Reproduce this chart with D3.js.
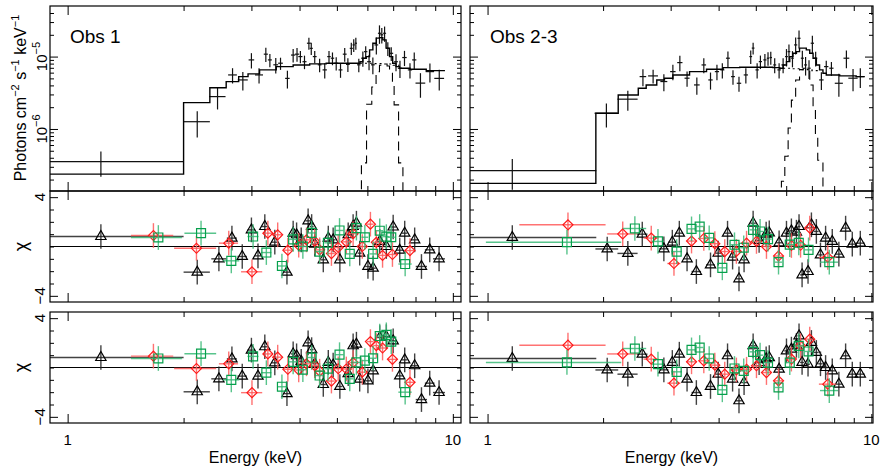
<!DOCTYPE html>
<html>
<head>
<meta charset="utf-8">
<script src="https://cdn.jsdelivr.net/npm/d3@7"></script>
<style>
  body { margin: 0; background: #fff; }
  text { font-family: "Liberation Sans", Arial, sans-serif; fill: #000; }
</style>
</head>
<body>
<svg id="chart" width="884" height="474"></svg>
<script>
// ---- Obs 1 : unfolded spectrum (flux in 1e-6 photons cm^-2 s^-1 keV^-1) ----
var spec1E   = [1.22, 2.17, 2.45, 2.68, 2.85, 3.0, 3.14, 3.27, 3.35, 3.47, 3.57, 3.72, 3.85, 3.94, 4.02, 4.12, 4.23, 4.29, 4.38, 4.51, 4.65, 4.77, 4.87, 4.98, 5.11, 5.24, 5.34, 5.45, 5.53, 5.60, 5.70, 5.84, 5.94, 6.06, 6.20, 6.33, 6.45, 6.54, 6.65, 6.78, 6.92, 7.12, 7.29, 7.49, 7.74, 7.94, 8.24, 8.72, 9.22];
var spec1dE  = [0.78, 0.17, 0.12, 0.07, 0.085, 0.05, 0.075, 0.04, 0.04, 0.05, 0.05, 0.05, 0.05, 0.05, 0.05, 0.05, 0.05, 0.04, 0.05, 0.05, 0.06, 0.05, 0.05, 0.06, 0.06, 0.06, 0.06, 0.05, 0.04, 0.04, 0.06, 0.06, 0.06, 0.07, 0.07, 0.07, 0.06, 0.06, 0.06, 0.07, 0.08, 0.08, 0.09, 0.1, 0.1, 0.1, 0.24, 0.22, 0.27];
var spec1F   = [0.353, 1.26, 2.8, 5.58, 4.76, 9.0, 5.58, 10.8, 9.0, 7.7, 8.1, 5.0, 10.5, 10.8, 10.0, 8.5, 15.3, 13.0, 10.0, 7.7, 6.55, 10.0, 9.5, 8.1, 6.55, 10.8, 7.8, 13.0, 14.5, 15.3, 7.7, 9.5, 11.7, 8.5, 7.7, 14.5, 21.0, 20.0, 21.0, 13.0, 11.1, 8.5, 6.9, 9.7, 6.55, 9.0, 4.3, 6.2, 5.0];
var spec1Err = [0.135, 0.5, 0.94, 1.33, 1.36, 2.15, 1.33, 2.4, 1.9, 1.84, 1.55, 1.38, 2.24, 2.3, 1.9, 1.8, 2.9, 2.5, 1.9, 1.64, 1.56, 1.9, 1.9, 1.7, 1.46, 2.3, 1.66, 2.5, 2.9, 2.9, 1.64, 2.27, 2.2, 2.0, 2.0, 3.8, 6.0, 4.8, 5.0, 2.8, 2.4, 2.25, 1.83, 2.3, 1.56, 2.4, 1.6, 1.8, 1.6];
// model (bin edges, one more than values), continuum and gaussian line
var model1E = [0.9, 2.0, 2.34, 2.58, 2.78, 2.94, 3.15, 3.48, 3.85, 4.25, 4.69, 5.2, 5.74, 5.84, 5.96, 6.08, 6.20, 6.33, 6.45, 6.58, 6.71, 6.85, 6.98, 7.12, 7.27, 7.74, 8.53, 9.54];
var model1F = [0.238, 2.31, 3.72, 4.51, 5.28, 5.77, 6.55, 7.27, 7.67, 7.92, 8.1, 8.1, 8.5, 9.5, 10.0, 12.4, 15.3, 18.0, 18.3, 17.0, 13.1, 10.0, 8.1, 7.27, 6.9, 6.69, 6.4];
var cont1E = [5.74, 6.2, 6.6, 7.0, 7.27];
var cont1F = [8.1, 8.0, 7.9, 7.6];
var line1E = [5.6, 5.79, 5.97, 6.16, 6.32, 6.45, 6.6, 6.75, 6.85, 6.97, 7.04, 7.23, 7.42, 7.6];
var line1F = [0.01, 0.34, 2.2, 3.8, 6.2, 7.6, 7.9, 7.4, 6.6, 4.0, 2.15, 0.34, 0.01];

// ---- Obs 2-3 : unfolded spectrum ----
var spec2E   = [1.16, 2.04, 2.32, 2.54, 2.70, 2.88, 3.04, 3.17, 3.31, 3.51, 3.66, 3.81, 3.96, 4.09, 4.23, 4.36, 4.52, 4.71, 4.85, 4.92, 5.04, 5.14, 5.28, 5.38, 5.47, 5.60, 5.75, 5.89, 6.01, 6.10, 6.23, 6.35, 6.48, 6.61, 6.74, 6.88, 7.02, 7.16, 7.41, 7.63, 7.87, 8.23, 8.61, 8.96, 9.36];
var spec2dE  = [0.76, 0.14, 0.14, 0.05, 0.08, 0.06, 0.05, 0.05, 0.05, 0.06, 0.05, 0.05, 0.05, 0.05, 0.05, 0.05, 0.06, 0.06, 0.04, 0.04, 0.05, 0.05, 0.05, 0.04, 0.04, 0.05, 0.06, 0.06, 0.05, 0.05, 0.05, 0.06, 0.06, 0.06, 0.06, 0.07, 0.07, 0.07, 0.1, 0.1, 0.1, 0.2, 0.15, 0.25, 0.25];
var spec2F   = [0.265, 1.65, 2.58, 5.29, 5.41, 4.52, 6.2, 8.26, 5.03, 4.06, 7.67, 4.76, 6.2, 6.55, 9.5, 5.29, 4.28, 5.58, 10.0, 13.1, 6.55, 8.53, 9.0, 9.5, 9.7, 7.67, 6.55, 7.67, 10.0, 11.7, 9.5, 14.5, 17.9, 9.5, 7.67, 6.91, 15.3, 9.5, 4.76, 7.27, 6.91, 4.28, 9.5, 5.03, 5.29];
var spec2Err = [0.12, 0.6, 0.8, 1.4, 1.15, 1.2, 1.5, 2.0, 1.2, 1.1, 1.8, 1.26, 1.5, 1.56, 2.3, 1.2, 1.0, 1.33, 2.1, 2.4, 1.56, 1.8, 1.9, 2.0, 2.0, 1.8, 1.56, 1.8, 2.7, 3.0, 2.4, 3.8, 5.0, 2.5, 2.2, 2.0, 4.1, 2.2, 1.3, 1.5, 1.5, 1.5, 2.6, 1.7, 1.6];
var model2E = [0.9, 1.915, 2.19, 2.47, 2.59, 2.76, 2.89, 3.04, 3.36, 3.72, 4.11, 4.54, 5.02, 5.54, 5.77, 5.89, 6.01, 6.13, 6.25, 6.38, 6.50, 6.64, 6.77, 6.91, 7.05, 7.19, 7.33, 7.48, 7.63, 8.27, 9.13, 9.6];
var model2F = [0.177, 1.65, 2.95, 3.66, 4.06, 4.76, 5.03, 5.58, 6.2, 6.7, 7.05, 7.13, 7.13, 7.05, 6.91, 7.67, 8.53, 10.0, 11.1, 11.7, 13.1, 13.1, 12.4, 11.1, 9.5, 7.67, 6.55, 5.89, 5.58, 5.41, 5.29];
var cont2E = [5.89, 6.2, 6.6, 7.0, 7.33];
var cont2F = [6.9, 6.8, 6.6, 6.4];
var line2E = [5.7, 5.83, 5.95, 6.07, 6.19, 6.35, 6.5, 6.64, 6.77, 6.91, 7.05, 7.15, 7.25, 7.48, 7.6];
var line2F = [0.01, 0.19, 0.42, 1.03, 2.5, 4.76, 6.6, 6.9, 6.6, 4.06, 1.95, 0.83, 0.37, 0.01];

// ---- residuals (chi), Fit = line+continuum model, Cont = continuum only ----
var res1kE    = [1.22, 2.17, 2.47, 2.67, 2.84, 3.0, 3.12, 3.25, 3.45, 3.71, 3.85, 3.93, 4.04, 4.21, 4.30, 4.38, 4.61, 4.75, 4.89, 5.09, 5.35, 5.51, 5.62, 5.73, 6.02, 6.21, 6.46, 6.72, 7.0, 7.28, 7.50, 7.96, 8.29, 8.71, 9.21];
var res1kDE   = [0.78, 0.17, 0.11, 0.08, 0.08, 0.07, 0.06, 0.06, 0.07, 0.07, 0.05, 0.05, 0.06, 0.07, 0.05, 0.05, 0.07, 0.07, 0.07, 0.08, 0.1, 0.06, 0.06, 0.07, 0.1, 0.1, 0.1, 0.1, 0.12, 0.15, 0.12, 0.2, 0.28, 0.25, 0.33];
var res1kFit  = [0.81, -2.08, -1.0, 0.68, -0.81, 1.35, -0.76, 1.62, 0.35, -2.08, 1.08, 0.95, 0.54, 2.08, 1.62, 0.19, -1.08, 0.68, 0.54, -1.08, 0.95, 1.62, 1.89, -0.54, -1.62, -1.76, 0.41, 0.0, 1.58, -0.3, 1.08, 0.54, -1.62, -0.27, -1.0];
var res1kCont = [0.81, -1.97, -0.92, 0.7, -0.7, 1.41, -0.7, 1.68, 0.38, -2.12, 1.1, 0.95, 0.5, 2.0, 1.45, 0.3, -1.38, 0.41, 0.2, -1.54, -0.5, 1.76, 1.89, -0.95, -1.08, -0.27, 2.43, 2.5, 2.16, -0.68, 0.62, 0.14, -2.6, -1.27, -2.03];

var res1rE    = [1.67, 2.16, 2.62, 3.01, 3.31, 3.51, 3.73, 3.98, 4.17, 4.38, 4.51, 4.84, 5.04, 5.29, 5.51, 5.82, 6.11, 6.33, 6.57, 6.97, 7.74];
var res1rDE   = [0.21, 0.27, 0.15, 0.19, 0.09, 0.09, 0.09, 0.09, 0.09, 0.1, 0.1, 0.1, 0.12, 0.12, 0.12, 0.12, 0.12, 0.12, 0.15, 0.2, 0.25];
var res1rFit  = [0.89, -0.14, 0.27, -2.05, 1.08, 0.95, -0.3, 0.1, 0.54, 0.41, -0.27, -0.57, -0.08, 0.38, 1.04, 0.0, 1.81, 0.34, -0.72, -0.65, -0.33];
var res1rCont = [0.92, -0.08, 0.3, -2.04, 1.1, 0.84, -0.14, -0.2, 0.3, 0.15, -0.3, -1.1, -0.1, -0.12, 0.4, -0.38, 2.1, 1.78, 1.58, 0.66, -1.2];

var res1gE    = [1.72, 2.22, 2.66, 3.03, 3.28, 3.60, 3.85, 4.08, 4.30, 4.51, 4.74, 5.08, 5.40, 5.62, 5.91, 6.21, 6.46, 6.72, 6.92, 7.52];
var res1gDE   = [0.26, 0.21, 0.13, 0.1, 0.1, 0.1, 0.09, 0.09, 0.1, 0.1, 0.1, 0.12, 0.12, 0.12, 0.12, 0.13, 0.13, 0.13, 0.15, 0.3];
var res1gFit  = [0.73, 1.08, -1.16, 0.81, -0.49, -1.58, 0.58, 0.0, 1.1, -0.41, 0.3, 1.3, -0.6, 1.49, 0.75, -0.6, 1.28, 0.8, 0.75, -1.42];
var res1gCont = [0.73, 1.12, -1.0, 0.9, -0.42, -1.56, 0.46, -0.18, 0.81, -0.65, -0.1, 1.04, -0.92, 0.41, 0.56, 0.75, 2.55, 2.65, 2.1, -2.0];

var res2kE    = [1.16, 2.05, 2.32, 2.53, 2.88, 3.03, 3.16, 3.31, 3.50, 3.81, 3.99, 4.22, 4.35, 4.52, 4.66, 4.92, 5.10, 5.32, 5.42, 5.75, 6.01, 6.19, 6.38, 6.48, 6.60, 6.84, 6.98, 7.19, 7.37, 7.60, 7.91, 8.23, 8.57, 8.92, 9.36];
var res2kDE   = [0.76, 0.14, 0.14, 0.08, 0.08, 0.07, 0.07, 0.07, 0.1, 0.1, 0.08, 0.08, 0.08, 0.08, 0.08, 0.08, 0.1, 0.08, 0.08, 0.1, 0.08, 0.08, 0.08, 0.06, 0.08, 0.08, 0.08, 0.1, 0.1, 0.12, 0.15, 0.15, 0.18, 0.2, 0.25];
var res2kFit  = [0.73, -0.2, -0.56, 1.0, -0.19, 0.35, 1.08, -1.0, -2.03, -1.49, -0.54, 1.08, -0.86, -2.62, -1.08, 1.89, 0.5, 1.0, 1.1, 0.3, 1.08, 1.27, 1.16, 1.62, -2.3, -2.03, 1.76, 1.22, -0.68, 0.68, 0.41, -0.62, 1.49, 0.19, 0.27];
var res2kCont = [0.73, -0.2, -0.54, 1.08, -0.19, 0.41, 1.08, -0.95, -2.03, -1.54, -0.54, 0.95, -0.95, -2.7, -1.22, 1.76, 0.4, 0.7, 0.8, -0.14, 1.35, 1.49, 1.8, 2.57, 0.41, 0.27, 2.03, 1.22, 0.3, 0.0, -0.27, -1.35, 0.95, -0.54, -0.54];

var res2rE    = [1.62, 2.25, 2.67, 3.06, 3.40, 3.66, 3.91, 4.15, 4.45, 4.73, 5.02, 5.33, 5.73, 6.19, 6.54, 6.91, 7.7];
var res2rDE   = [0.41, 0.2, 0.12, 0.12, 0.1, 0.1, 0.1, 0.1, 0.12, 0.12, 0.12, 0.15, 0.15, 0.15, 0.15, 0.15, 0.4];
var res2rFit  = [1.76, 1.02, 0.68, -1.38, 0.44, 0.65, 0.23, -0.41, -0.4, 0.27, 0.41, 0.0, -0.77, 0.08, 0.1, 1.49, -0.88];
var res2rCont = [1.81, 1.1, 0.68, -1.27, 0.46, 0.54, 0.19, -0.54, -0.2, -0.14, 0.14, -0.41, -1.08, 0.68, 1.76, 2.3, -1.35];

var res2gE    = [1.61, 2.42, 2.78, 3.11, 3.40, 3.57, 3.78, 4.09, 4.40, 4.65, 4.92, 5.13, 5.38, 5.73, 6.13, 6.47, 6.86, 7.77];
var res2gDE   = [0.62, 0.17, 0.1, 0.1, 0.08, 0.08, 0.1, 0.1, 0.1, 0.1, 0.1, 0.1, 0.12, 0.12, 0.15, 0.15, 0.15, 0.42];
var res2gFit  = [0.35, 1.46, 0.41, -0.41, 1.43, 1.62, 0.7, -1.73, 0.14, -0.1, 1.35, 1.22, 0.6, -1.27, 0.15, 0.3, -0.27, -1.27];
var res2gCont = [0.41, 1.54, 0.27, -0.35, 1.43, 1.62, 0.73, -1.81, -0.08, -0.27, 1.27, 1.0, 0.4, -1.62, 0.4, 1.75, 1.3, -1.87];

var chiErr = 1;   // residual error bars are +-1 sigma
var xMajor = [1, 10], xMinor = [2, 3, 4, 5, 6, 7, 8, 9];
var fluxMajor = [1, 10];
var fluxMinor = [0.2, 0.3, 0.4, 0.5, 0.6, 0.7, 0.8, 0.9, 2, 3, 4, 5, 6, 7, 8, 9, 20, 30, 40];
var chiMajor = [-4, 4], chiMinor = [-3, -2, -1, 0, 1, 2, 3];

// ---- layout ----
var svg = d3.select("#chart");
var rowTop = [6, 191], rowMid = [191, 302], rowBot = [312, 423];

var yFlux = d3.scaleLog().domain([0.139, 50]).range([rowTop[1], rowTop[0]]);
var yMid = d3.scaleLinear().domain([-4.5, 4.5]).range([rowMid[1], rowMid[0]]);
var yBot = d3.scaleLinear().domain([-4.5, 4.5]).range([rowBot[1], rowBot[0]]);

function zip(E, dE, v) {
  return E.map(function(e, i) { return {E: e, dE: dE[i], v: v[i]}; });
}
function steps(E, F) {
  var pts = F.map(function(f, i) { return {E: E[i], F: f}; });
  pts.push({E: E[E.length - 1], F: F[F.length - 1]});
  return pts;
}

var cols = [
  {x0: 50, x1: 461, eMax: 10.5, title: "Obs 1", labels: true,
   spec: spec1E.map(function(e, i) { return {E: e, dE: spec1dE[i], F: spec1F[i], err: spec1Err[i]}; }),
   model: steps(model1E, model1F), cont: steps(cont1E, cont1F), line: steps(line1E, line1F),
   res: [
     {sym: "tri", color: "#000", bar: "#222", fit: zip(res1kE, res1kDE, res1kFit), cont: zip(res1kE, res1kDE, res1kCont)},
     {sym: "dia", color: "#ff1a1a", bar: "#ff5a5a", fit: zip(res1rE, res1rDE, res1rFit), cont: zip(res1rE, res1rDE, res1rCont)},
     {sym: "sq", color: "#06a04c", bar: "#3cba78", fit: zip(res1gE, res1gDE, res1gFit), cont: zip(res1gE, res1gDE, res1gCont)}
   ]},
  {x0: 470, x1: 873, eMax: 10.1, title: "Obs 2-3", labels: false,
   spec: spec2E.map(function(e, i) { return {E: e, dE: spec2dE[i], F: spec2F[i], err: spec2Err[i]}; }),
   model: steps(model2E, model2F), cont: steps(cont2E, cont2F), line: steps(line2E, line2F),
   res: [
     {sym: "tri", color: "#000", bar: "#222", fit: zip(res2kE, res2kDE, res2kFit), cont: zip(res2kE, res2kDE, res2kCont)},
     {sym: "dia", color: "#ff1a1a", bar: "#ff5a5a", fit: zip(res2rE, res2rDE, res2rFit), cont: zip(res2rE, res2rDE, res2rCont)},
     {sym: "sq", color: "#06a04c", bar: "#3cba78", fit: zip(res2gE, res2gDE, res2gFit), cont: zip(res2gE, res2gDE, res2gCont)}
   ]}
];

var symTri = d3.symbol().type(d3.symbolTriangle).size(46);
var symSq = d3.symbol().type(d3.symbolSquare).size(80);
var symDia = d3.symbol().type(d3.symbolSquare).size(50);

var clipId = 0;
function clipped(g, x0, x1, y0, y1) {
  var id = "clip" + (clipId++);
  svg.append("clipPath").attr("id", id).append("rect")
    .attr("x", x0).attr("y", y0).attr("width", x1 - x0).attr("height", y1 - y0);
  return g.append("g").attr("clip-path", "url(#" + id + ")");
}

function edgeTicks(g, scale, orient, pos, values, len) {
  var mk = {bottom: d3.axisBottom, top: d3.axisTop, left: d3.axisLeft, right: d3.axisRight}[orient];
  var ax = mk(scale).tickValues(values).tickSize(-len).tickFormat("");
  var tr = (orient == "bottom" || orient == "top") ? "translate(0," + pos + ")" : "translate(" + pos + ",0)";
  var a = g.append("g").attr("transform", tr).call(ax);
  a.select(".domain").remove();
  a.selectAll("line").attr("stroke", "#000").attr("stroke-width", 1);
}

function frame(g, x, y, x0, x1, y0, y1, yMaj, yMin) {
  g.append("rect").attr("x", x0).attr("y", y0).attr("width", x1 - x0).attr("height", y1 - y0)
    .attr("fill", "none").attr("stroke", "#000").attr("stroke-width", 1.2);
  edgeTicks(g, x, "bottom", y1, xMajor, 9);
  edgeTicks(g, x, "bottom", y1, xMinor, 5);
  edgeTicks(g, x, "top", y0, xMajor, 9);
  edgeTicks(g, x, "top", y0, xMinor, 5);
  edgeTicks(g, y, "left", x0, yMaj, 8);
  edgeTicks(g, y, "left", x0, yMin, 4);
  edgeTicks(g, y, "right", x1, yMaj, 8);
  edgeTicks(g, y, "right", x1, yMin, 4);
}

function rotLabel(x, y, size) {
  return svg.append("text")
    .attr("transform", "translate(" + x + "," + y + ") rotate(-90)")
    .attr("text-anchor", "middle").attr("font-size", size);
}

cols.forEach(function(c) {
  var x = d3.scaleLog().domain([0.9, c.eMax]).range([c.x0, c.x1]);
  var g = svg.append("g");

  // ---- top panel: spectrum ----
  var gt = clipped(g, c.x0, c.x1, rowTop[0], rowTop[1]);
  var stepLine = d3.line().curve(d3.curveStepAfter)
    .x(function(d) { return x(d.E); })
    .y(function(d) { return yFlux(d.F); });

  gt.append("path").attr("d", stepLine(c.line)).attr("fill", "none")
    .attr("stroke", "#000").attr("stroke-width", 1.1).attr("stroke-dasharray", "9,6");
  gt.append("path").attr("d", stepLine(c.cont)).attr("fill", "none")
    .attr("stroke", "#000").attr("stroke-width", 1.1).attr("stroke-dasharray", "2,3");

  var cross = gt.selectAll(".cross").data(c.spec).enter().append("g").attr("class", "cross")
    .attr("stroke", "#111").attr("stroke-width", 1.2);
  cross.append("line")
    .attr("x1", function(d) { return x(d.E - d.dE); })
    .attr("x2", function(d) { return x(d.E + d.dE); })
    .attr("y1", function(d) { return yFlux(d.F); })
    .attr("y2", function(d) { return yFlux(d.F); });
  cross.append("line")
    .attr("x1", function(d) { return x(d.E); })
    .attr("x2", function(d) { return x(d.E); })
    .attr("y1", function(d) { return yFlux(Math.max(d.F - d.err, 0.01)); })
    .attr("y2", function(d) { return yFlux(d.F + d.err); });

  gt.append("path").attr("d", stepLine(c.model)).attr("fill", "none")
    .attr("stroke", "#000").attr("stroke-width", 1.4);

  frame(g, x, yFlux, c.x0, c.x1, rowTop[0], rowTop[1], fluxMajor, fluxMinor);

  svg.append("text").attr("x", c.x0 + 20).attr("y", 43).attr("font-size", 19).text(c.title);

  // ---- residual panels ----
  [[yMid, rowMid, "fit"], [yBot, rowBot, "cont"]].forEach(function(p) {
    var y = p[0], row = p[1], key = p[2];
    var gr = clipped(g, c.x0, c.x1, row[0], row[1]);
    gr.append("line").attr("x1", c.x0).attr("x2", c.x1)
      .attr("y1", y(0)).attr("y2", y(0)).attr("stroke", "#000").attr("stroke-width", 1.2);

    c.res.forEach(function(s) {
      var pts = gr.selectAll(".pt-" + s.sym).data(s[key]).enter().append("g");
      pts.append("line")
        .attr("x1", function(d) { return x(d.E - d.dE); })
        .attr("x2", function(d) { return x(d.E + d.dE); })
        .attr("y1", function(d) { return y(d.v); })
        .attr("y2", function(d) { return y(d.v); })
        .attr("stroke", s.bar).attr("stroke-width", 1.4).attr("opacity", 0.85);
      pts.append("line")
        .attr("x1", function(d) { return x(d.E); })
        .attr("x2", function(d) { return x(d.E); })
        .attr("y1", function(d) { return y(d.v - chiErr); })
        .attr("y2", function(d) { return y(d.v + chiErr); })
        .attr("stroke", s.bar).attr("stroke-width", 1.4).attr("opacity", 0.85);
      pts.append("path")
        .attr("d", s.sym == "tri" ? symTri() : s.sym == "sq" ? symSq() : symDia())
        .attr("transform", function(d) {
          return "translate(" + x(d.E) + "," + y(d.v) + ")" + (s.sym == "dia" ? " rotate(45)" : "");
        })
        .attr("fill", "none").attr("stroke", s.color).attr("stroke-width", 1.2);
    });

    frame(g, x, y, c.x0, c.x1, row[0], row[1], chiMajor, chiMinor);

    if (c.labels) {
      rotLabel(45, y(4), 15).text("4");
      rotLabel(45, y(-4), 15).text("\u22124");
      rotLabel(27, y(0), 18).text("\u03c7");
    }
  });

  // ---- x labels ----
  xMajor.forEach(function(v) {
    svg.append("text").attr("x", x(v)).attr("y", 445).attr("text-anchor", "middle")
      .attr("font-size", 15).text(v);
  });
  svg.append("text").attr("x", (c.x0 + c.x1) / 2).attr("y", 463).attr("text-anchor", "middle")
    .attr("font-size", 16).text("Energy (keV)");
});

// ---- top panel y labels ----
[[10, "\u22125"], [1, "\u22126"]].forEach(function(t) {
  var lab = rotLabel(47, yFlux(t[0]), 15);
  lab.append("tspan").text("10");
  lab.append("tspan").attr("dy", -7).attr("font-size", 11).text(t[1]);
});

var yt = rotLabel(26, 98, 16);
yt.append("tspan").text("Photons cm");
yt.append("tspan").attr("dy", -7).attr("font-size", 11).text("\u22122");
yt.append("tspan").attr("dy", 7).text(" s");
yt.append("tspan").attr("dy", -7).attr("font-size", 11).text("\u22121");
yt.append("tspan").attr("dy", 7).text(" keV");
yt.append("tspan").attr("dy", -7).attr("font-size", 11).text("\u22121");
</script>
</body>
</html>
